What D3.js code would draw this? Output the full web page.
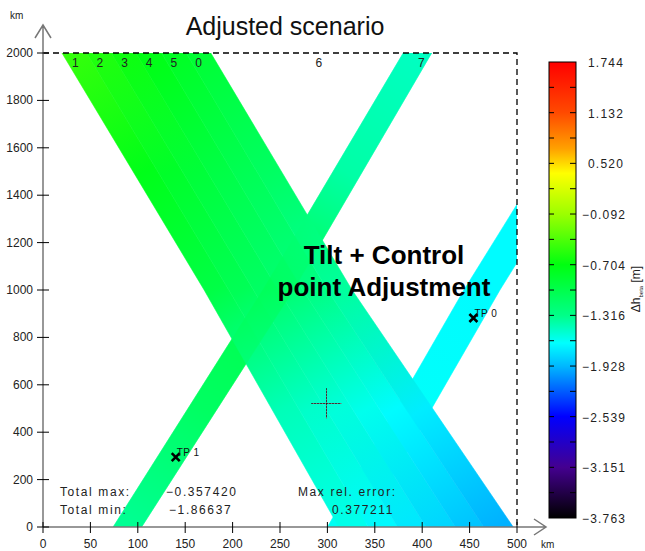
<!DOCTYPE html>
<html>
<head>
<meta charset="utf-8">
<script src="https://cdn.jsdelivr.net/npm/d3@7/dist/d3.min.js"></script>
<style>
    body { margin: 0; background: #fff; }
    text { font-family: "Liberation Sans", Arial, sans-serif; }
</style>
</head>
<body>
<div class="svg_container"></div>
<script>
// axis ticks (km)
var xTicks = [0, 50, 100, 150, 200, 250, 300, 350, 400, 450, 500];
var yTicks = [0, 200, 400, 600, 800, 1000, 1200, 1400, 1600, 1800, 2000];

// colour bar
var cbTicks = [1.744, 1.132, 0.520, -0.092, -0.704, -1.316, -1.928, -2.539, -3.151, -3.763];
var cmapValues = [1.744, 1.132, 0.70, 0.40, -0.092, -0.704, -1.316, -1.65, -1.928, -2.539, -3.151, -3.763];
var cmapColors = ["#ff0000", "#ff4a00", "#ffa000", "#ffff00", "#9cff00", "#00ff10", "#00ff88",
    "#00ffff", "#00b8ff", "#0000ff", "#440090", "#000000"];

// swath edges (km across) at the along-track levels
var edgeLevels = [2000, 1000, 0];
var swathAAt2000 = [20, 46, 72, 98, 125, 151, 177];
var swathAAt1000 = [170, 196, 222, 248, 274, 300, 326];
var swathAAt0 = [312, 343, 374, 404, 435, 465, 496];
var track7Left = [380, 232, 74], track7Right = [410, 264, 104];
var track6Left = [599, 444, 300], track6Right = [637, 482, 338];

// delta h along each track (m)
var valueLevels = [2000, 1500, 1000, 500, 0];
var dh1 = [-0.50, -0.75, -0.98, -1.45, -1.60];
var dh2 = [-0.58, -0.83, -1.06, -1.50, -1.67];
var dh3 = [-0.65, -0.91, -1.14, -1.55, -1.74];
var dh4 = [-0.72, -0.98, -1.22, -1.60, -1.81];
var dh5 = [-0.80, -1.05, -1.30, -1.66, -1.88];
var dh0 = [-0.88, -1.12, -1.38, -1.72, -1.95];
var dh7 = [-1.48, -1.40, -1.00, -1.12, -1.35];
var dh6 = [-1.66, -1.66, -1.66, -1.64, -1.62];

var trackLabels = ["1", "2", "3", "4", "5", "0", "6", "7"];
var trackLabelKm = [34, 60, 86, 112, 138, 164, 291, 399];

var tpNames = ["TP 0", "TP 1"];
var tpX = [454, 140];
var tpY = [882, 295];
var sceneCenter = [299, 522];

var statNames = ["Total max:", "Total min:"];
var statValues = ["\u22120.357420", "\u22121.86637"];
var errName = "Max rel. error:";
var errValue = "0.377211";

const WIDTH = 645, HEIGHT = 551;

var xScale = d3.scaleLinear().domain([0, 500]).range([43, 517]);
var yScale = d3.scaleLinear().domain([0, 2000]).range([527, 53]);
var cmap = d3.scaleLinear().domain(cmapValues).range(cmapColors).clamp(true);
var cbScale = d3.scaleLinear().domain([-3.763, 1.744]).range([518, 62]);

var svg = d3.select('.svg_container').append('svg')
    .attr('width', WIDTH)
    .attr('height', HEIGHT);
var defs = svg.append('defs');

defs.append('clipPath').attr('id', 'plotClip')
    .append('rect')
    .attr('x', xScale(0)).attr('y', yScale(2000))
    .attr('width', xScale(500) - xScale(0))
    .attr('height', yScale(0) - yScale(2000));

// build track table
var tracks = [];
var aVals = [dh1, dh2, dh3, dh4, dh5, dh0];
for (var i = 0; i < 6; i++) {
    tracks.push({
        id: 'A' + i,
        left: [swathAAt2000[i], swathAAt1000[i], swathAAt0[i]],
        right: [swathAAt2000[i + 1], swathAAt1000[i + 1], swathAAt0[i + 1]],
        values: aVals[i]
    });
}
var track7 = {id: 'T7', left: track7Left, right: track7Right, values: dh7};
var track6 = {id: 'T6', left: track6Left, right: track6Right, values: dh6};

var edgeLine = d3.line()
    .x(function (d) { return xScale(d[0]); })
    .y(function (d) { return yScale(d[1]); });

var makeGradient = function (t) {
    var x1 = xScale((t.left[0] + t.right[0]) / 2), y1 = yScale(edgeLevels[0]);
    var x2 = xScale((t.left[2] + t.right[2]) / 2), y2 = yScale(edgeLevels[2]);
    var g = defs.append('linearGradient')
        .attr('id', 'grad' + t.id)
        .attr('gradientUnits', 'userSpaceOnUse')
        .attr('x1', x1).attr('y1', y1).attr('x2', x2).attr('y2', y2);
    g.selectAll('stop').data(valueLevels).enter().append('stop')
        .attr('offset', function (d) { return (yScale(d) - y1) / (y2 - y1); })
        .attr('stop-color', function (d, j) { return cmap(t.values[j]); });
};

var trackPath = function (t) {
    var pts = edgeLevels.map(function (lv, j) { return [t.left[j], lv]; })
        .concat(edgeLevels.map(function (lv, j) { return [t.right[j], lv]; }).reverse());
    return edgeLine(pts) + 'Z';
};

tracks.concat([track7, track6]).forEach(makeGradient);

var plot = svg.append('g').attr('clip-path', 'url(#plotClip)');

var drawTrack = function (t, opacity) {
    plot.append('path')
        .attr('d', trackPath(t))
        .attr('fill', 'url(#grad' + t.id + ')')
        .attr('stroke', 'url(#grad' + t.id + ')')
        .attr('stroke-width', 0.6)
        .attr('opacity', opacity);
};

drawTrack(track7, 1);
drawTrack(track6, 1);
tracks.forEach(function (t) { drawTrack(t, 1); });
drawTrack(track7, 0.35);

// scene centre crosshair
var cx = Math.round(xScale(sceneCenter[0])) + 0.5, cy = Math.round(yScale(sceneCenter[1])) + 0.5;
[['#777', 'none'], ['#000', '1,2']].forEach(function (s) {
    plot.append('line').attr('x1', cx - 15).attr('x2', cx + 15).attr('y1', cy).attr('y2', cy)
        .attr('stroke', s[0]).attr('stroke-width', 1).attr('stroke-dasharray', s[1]);
    plot.append('line').attr('x1', cx).attr('x2', cx).attr('y1', cy - 15).attr('y2', cy + 15)
        .attr('stroke', s[0]).attr('stroke-width', 1).attr('stroke-dasharray', s[1]);
});

// dashed frame (top and right)
svg.append('path')
    .attr('d', 'M' + xScale(0) + ',' + yScale(2000) + 'H' + xScale(500) + 'V' + yScale(0))
    .attr('fill', 'none')
    .attr('stroke', '#000')
    .attr('stroke-width', 1.3)
    .attr('stroke-dasharray', '6,4');

// axes
var axisColor = '#777';
var x0 = xScale(0), y0 = yScale(0);
svg.append('path')
    .attr('d', 'M' + x0 + ',' + y0 + 'H546M534,519L546,527L534,535')
    .attr('fill', 'none').attr('stroke', axisColor).attr('stroke-width', 1.5);
svg.append('path')
    .attr('d', 'M' + x0 + ',' + y0 + 'V25M35,38L43,25L51,38')
    .attr('fill', 'none').attr('stroke', axisColor).attr('stroke-width', 1.5);

var xAxis = svg.append('g').attr('class', 'x-axis');
xAxis.selectAll('line').data(xTicks).enter().append('line')
    .attr('x1', function (d) { return xScale(d); })
    .attr('x2', function (d) { return xScale(d); })
    .attr('y1', y0 - 5).attr('y2', y0 + 6)
    .attr('stroke', '#000');
xAxis.selectAll('text').data(xTicks).enter().append('text')
    .attr('x', function (d) { return xScale(d); })
    .attr('y', 548)
    .attr('text-anchor', 'middle')
    .attr('font-size', 12)
    .attr('fill', '#222')
    .text(function (d) { return d; });

var yAxis = svg.append('g').attr('class', 'y-axis');
yAxis.selectAll('line').data(yTicks).enter().append('line')
    .attr('x1', x0 - 6).attr('x2', x0 + 6)
    .attr('y1', function (d) { return yScale(d); })
    .attr('y2', function (d) { return yScale(d); })
    .attr('stroke', '#000');
yAxis.selectAll('text').data(yTicks).enter().append('text')
    .attr('x', 33)
    .attr('y', function (d) { return yScale(d) + 4; })
    .attr('text-anchor', 'end')
    .attr('font-size', 12)
    .attr('fill', '#222')
    .text(function (d) { return d; });

svg.append('text').attr('x', 10).attr('y', 19).attr('font-size', 10).attr('fill', '#222').text('km');
svg.append('text').attr('x', 541).attr('y', 548).attr('font-size', 10).attr('fill', '#222').text('km');

// track numbers
svg.append('g').selectAll('text').data(trackLabels).enter().append('text')
    .attr('x', function (d, i) { return xScale(trackLabelKm[i]); })
    .attr('y', yScale(2000) + 14)
    .attr('text-anchor', 'middle')
    .attr('font-size', 12)
    .attr('fill', '#222')
    .text(function (d) { return d; });

// tie points
var tp = svg.append('g');
tpNames.forEach(function (name, i) {
    var px = xScale(tpX[i]), py = yScale(tpY[i]);
    tp.append('path')
        .attr('d', 'M' + (px - 4) + ',' + (py - 4) + 'L' + (px + 4) + ',' + (py + 4) +
            'M' + (px - 4) + ',' + (py + 4) + 'L' + (px + 4) + ',' + (py - 4))
        .attr('stroke', '#000').attr('stroke-width', 2.6);
    tp.append('text')
        .attr('x', px + 1).attr('y', py - 1)
        .attr('font-size', 10)
        .attr('fill', '#111')
        .attr('letter-spacing', 0.5)
        .text(name);
});

// statistics
var stats = svg.append('g').attr('font-size', 12).attr('fill', '#222').attr('letter-spacing', 1.6);
statNames.forEach(function (s, i) {
    stats.append('text').attr('x', 60).attr('y', 496 + i * 18).text(s);
    stats.append('text').attr('x', i === 0 ? 166 : 169).attr('y', 496 + i * 18).text(statValues[i]);
});
stats.append('text').attr('x', 298).attr('y', 496).text(errName);
stats.append('text').attr('x', 332).attr('y', 514).text(errValue);

// titles
svg.append('text')
    .attr('x', 285).attr('y', 35)
    .attr('text-anchor', 'middle')
    .attr('font-size', 25)
    .attr('fill', '#111')
    .text('Adjusted scenario');
var note = svg.append('g').attr('font-size', 26).attr('font-weight', 'bold').attr('text-anchor', 'middle');
note.append('text').attr('x', 384).attr('y', 264).text('Tilt + Control');
note.append('text').attr('x', 384).attr('y', 296).text('point Adjustment');

// colour bar
var cbX = 549, cbW = 27;
var cbGrad = defs.append('linearGradient')
    .attr('id', 'cbGrad')
    .attr('gradientUnits', 'userSpaceOnUse')
    .attr('x1', 0).attr('x2', 0)
    .attr('y1', cbScale(1.744)).attr('y2', cbScale(-3.763));
cbGrad.selectAll('stop').data(cmapValues).enter().append('stop')
    .attr('offset', function (d) { return (cbScale(d) - cbScale(1.744)) / (cbScale(-3.763) - cbScale(1.744)); })
    .attr('stop-color', function (d) { return cmap(d); });

var cb = svg.append('g');
cb.append('rect')
    .attr('x', cbX).attr('y', cbScale(1.744))
    .attr('width', cbW).attr('height', cbScale(-3.763) - cbScale(1.744))
    .attr('fill', 'url(#cbGrad)')
    .attr('stroke', '#000').attr('stroke-width', 1);

var minorTicks = d3.pairs(cbTicks).map(function (p) { return (p[0] + p[1]) / 2; });
var allTicks = cbTicks.slice(1, -1).concat(minorTicks);
cb.selectAll('.tl').data(allTicks).enter().append('line')
    .attr('x1', cbX).attr('x2', cbX + 5)
    .attr('y1', function (d) { return cbScale(d); })
    .attr('y2', function (d) { return cbScale(d); })
    .attr('stroke', '#000');
cb.selectAll('.tr').data(allTicks).enter().append('line')
    .attr('x1', cbX + cbW - 6).attr('x2', cbX + cbW)
    .attr('y1', function (d) { return cbScale(d); })
    .attr('y2', function (d) { return cbScale(d); })
    .attr('stroke', '#000');
cb.selectAll('text').data(cbTicks).enter().append('text')
    .attr('x', function (d) { return d < 0 ? 582 : 588; })
    .attr('y', function (d) { return cbScale(d) + 5; })
    .attr('font-size', 12)
    .attr('fill', '#222')
    .attr('letter-spacing', 1.2)
    .text(function (d) { return d < 0 ? '\u2212' + d3.format('.3f')(-d) : d3.format('.3f')(d); });

var cbTitle = svg.append('text')
    .attr('transform', 'translate(640,289) rotate(-90)')
    .attr('text-anchor', 'middle')
    .attr('font-size', 12)
    .attr('fill', '#222');
cbTitle.append('tspan').text('\u0394h');
cbTitle.append('tspan').attr('font-size', 6).attr('dy', 3).text('beta');
cbTitle.append('tspan').attr('dy', -3).text(' [m]');
</script>
</body>
</html>
